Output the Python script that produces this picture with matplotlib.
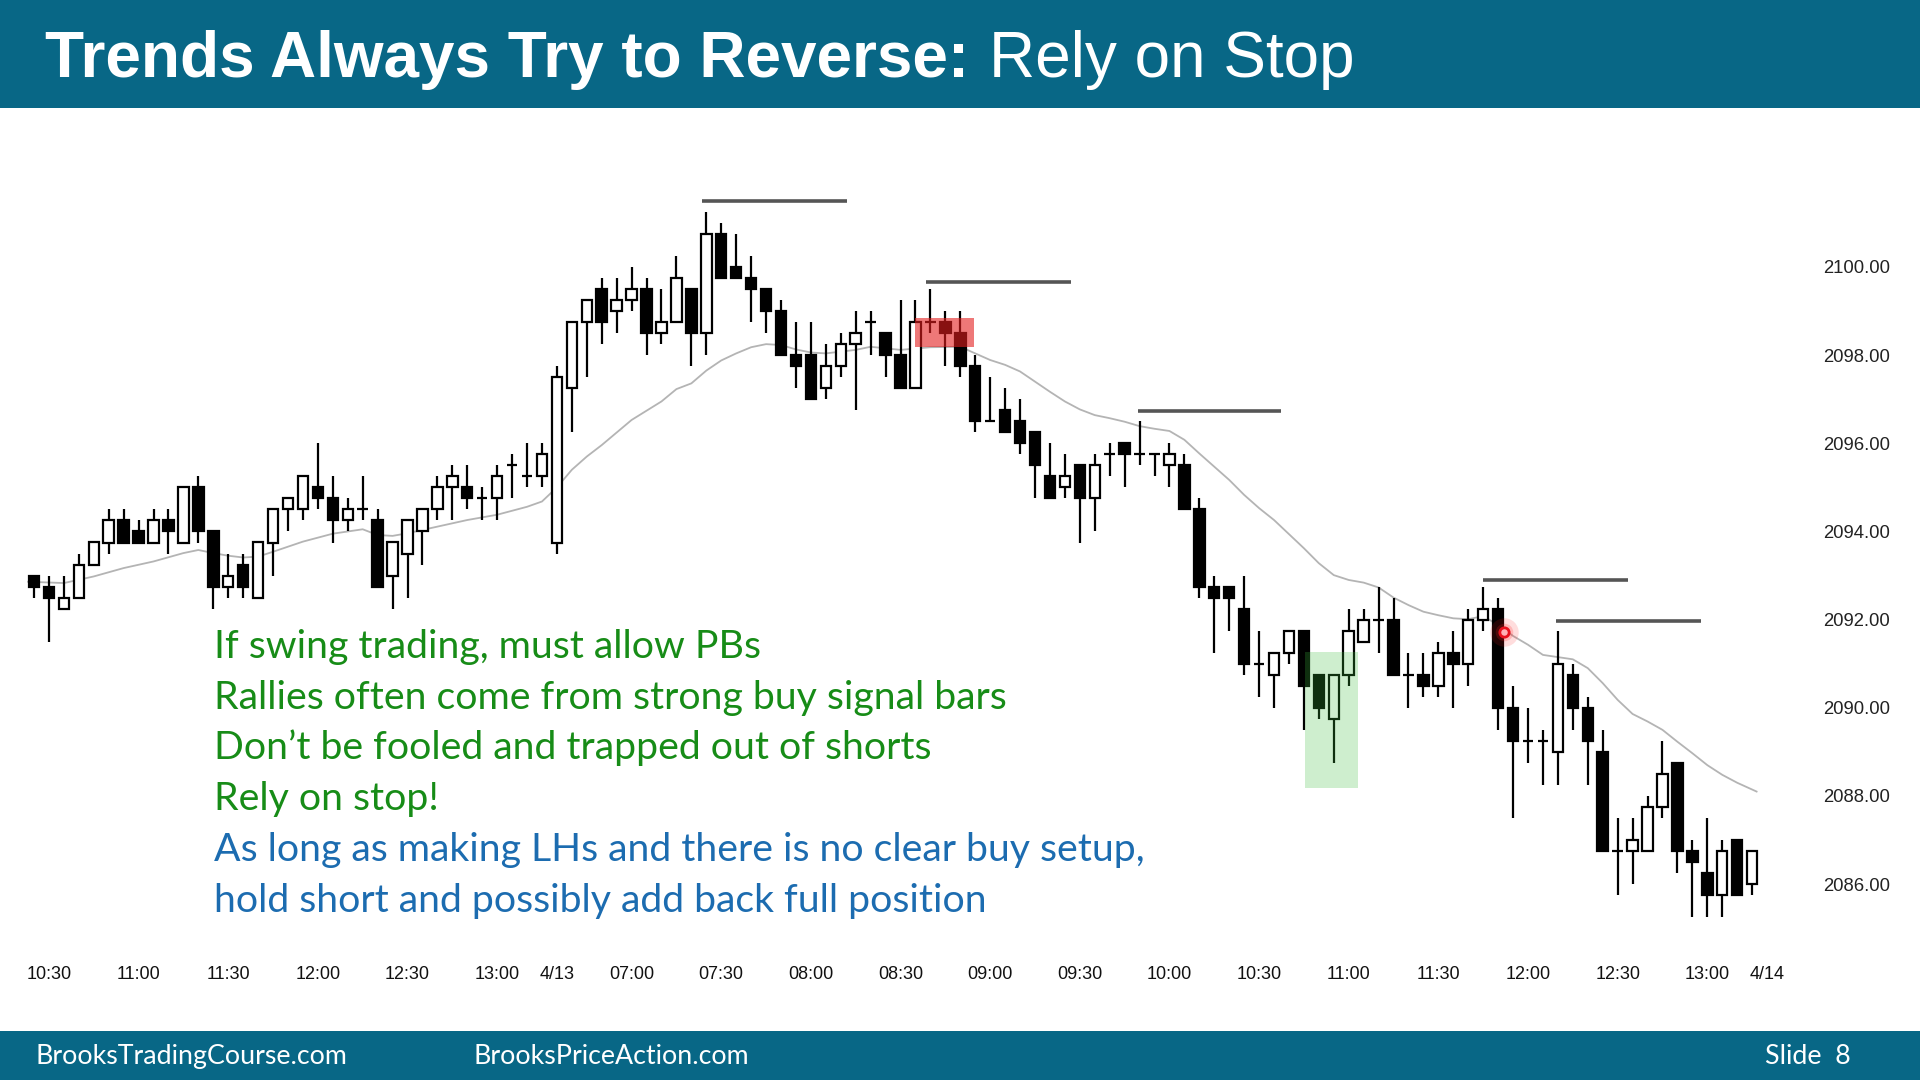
"""
Trends Always Try to Reverse: Rely on Stop  (slide 8)
5-min candles, 4/12 10:25 -> 4/13 13:15, with 20-bar EMA and swing-high lines.
"""
import matplotlib
matplotlib.use("Agg")
import matplotlib.pyplot as plt
from matplotlib.patches import Rectangle
import numpy as np

W, H, DPI = 1920, 1080, 100
TEAL = "#086786"
GREEN_TXT = "#178c17"
BLUE_TXT = "#1c6cb0"

# ---------- data ----------
# one entry per 5-min bar, bar 0 = 10:25, bar 35 = 06:35 next session
opens = [
    2093.0, 2092.75, 2092.25, 2092.5, 2093.25, 2093.75, 2094.25, 2094.0, 2093.75, 2094.25,
    2093.75, 2095.0, 2094.0, 2092.75, 2093.25, 2092.5, 2093.75, 2094.5, 2094.5, 2095.0,
    2094.75, 2094.25, 2094.5, 2094.25, 2093.0, 2093.5, 2094.0, 2094.5, 2095.0, 2095.0,
    2094.75, 2094.75, 2095.5, 2095.25, 2095.25, 2093.75, 2097.25, 2098.75, 2099.5, 2099.0,
    2099.25, 2099.5, 2098.5, 2098.75, 2099.5, 2098.5, 2100.75, 2100.0, 2099.75, 2099.5,
    2099.0, 2098.0, 2098.0, 2097.25, 2097.75, 2098.25, 2098.75, 2098.5, 2098.0, 2097.25,
    2098.75, 2098.75, 2098.5, 2097.75, 2096.5, 2096.75, 2096.5, 2096.25, 2095.25, 2095.0,
    2095.5, 2094.75, 2095.75, 2096.0, 2095.75, 2095.75, 2095.5, 2095.5, 2094.5, 2092.75,
    2092.75, 2092.25, 2091.0, 2090.75, 2091.25, 2091.75, 2090.75, 2089.75, 2090.75, 2091.5,
    2092.0, 2092.0, 2090.75, 2090.75, 2090.5, 2091.25, 2091.0, 2092.0, 2092.25, 2090.0,
    2089.25, 2089.25, 2089.0, 2090.75, 2090.0, 2089.0, 2086.75, 2086.75, 2086.75, 2087.75,
    2088.75, 2086.75, 2086.25, 2085.75, 2087.0, 2086.0,
]
highs = [
    2093.0, 2093.0, 2093.0, 2093.5, 2093.75, 2094.5, 2094.5, 2094.25, 2094.5, 2094.5,
    2095.0, 2095.25, 2094.0, 2093.5, 2093.5, 2093.75, 2094.5, 2094.75, 2095.25, 2096.0,
    2095.25, 2094.75, 2095.25, 2094.5, 2093.75, 2094.25, 2094.5, 2095.25, 2095.5, 2095.5,
    2095.0, 2095.5, 2095.75, 2096.0, 2096.0, 2097.75, 2098.75, 2099.25, 2099.75, 2099.75,
    2100.0, 2099.75, 2099.5, 2100.25, 2099.5, 2101.25, 2101.0, 2100.75, 2100.25, 2099.5,
    2099.25, 2098.75, 2098.75, 2098.25, 2098.5, 2099.0, 2099.0, 2098.5, 2099.25, 2099.25,
    2099.5, 2099.0, 2099.0, 2098.0, 2097.5, 2097.25, 2097.0, 2096.25, 2096.0, 2095.75,
    2095.5, 2095.75, 2096.0, 2096.0, 2096.5, 2095.75, 2096.0, 2095.75, 2094.75, 2093.0,
    2092.75, 2093.0, 2091.75, 2091.25, 2091.75, 2091.75, 2090.75, 2090.75, 2092.25, 2092.25,
    2092.75, 2092.5, 2091.25, 2091.25, 2091.5, 2091.75, 2092.25, 2092.75, 2092.5, 2090.5,
    2090.0, 2089.5, 2091.75, 2091.0, 2090.25, 2089.5, 2087.5, 2087.5, 2088.0, 2089.25,
    2088.75, 2087.0, 2087.5, 2087.0, 2087.0, 2086.75,
]
lows = [
    2092.5, 2091.5, 2092.25, 2092.5, 2093.25, 2093.5, 2093.75, 2093.75, 2093.75, 2093.5,
    2093.75, 2093.75, 2092.25, 2092.5, 2092.5, 2092.5, 2093.0, 2094.0, 2094.25, 2094.5,
    2093.75, 2094.0, 2094.25, 2092.75, 2092.25, 2092.5, 2093.25, 2094.25, 2094.25, 2094.5,
    2094.25, 2094.25, 2094.75, 2095.0, 2095.0, 2093.5, 2096.25, 2097.5, 2098.25, 2098.5,
    2099.0, 2098.0, 2098.25, 2098.75, 2097.75, 2098.0, 2099.75, 2099.75, 2098.75, 2098.5,
    2098.0, 2097.25, 2097.0, 2097.0, 2097.5, 2096.75, 2098.0, 2097.5, 2097.25, 2097.25,
    2098.5, 2097.75, 2097.5, 2096.25, 2096.5, 2096.25, 2095.75, 2094.75, 2094.75, 2094.75,
    2093.75, 2094.0, 2095.25, 2095.0, 2095.5, 2095.25, 2095.0, 2094.5, 2092.5, 2091.25,
    2091.75, 2090.75, 2090.25, 2090.0, 2091.0, 2089.5, 2089.75, 2088.75, 2090.5, 2091.5,
    2091.25, 2090.75, 2090.0, 2090.25, 2090.25, 2090.0, 2090.5, 2091.75, 2089.5, 2087.5,
    2088.75, 2088.25, 2088.25, 2089.5, 2088.25, 2086.75, 2085.75, 2086.0, 2086.75, 2087.5,
    2086.25, 2085.25, 2085.25, 2085.25, 2085.75, 2085.75,
]
closes = [
    2092.75, 2092.5, 2092.5, 2093.25, 2093.75, 2094.25, 2093.75, 2093.75, 2094.25, 2094.0,
    2095.0, 2094.0, 2092.75, 2093.0, 2092.75, 2093.75, 2094.5, 2094.75, 2095.25, 2094.75,
    2094.25, 2094.5, 2094.5, 2092.75, 2093.75, 2094.25, 2094.5, 2095.0, 2095.25, 2094.75,
    2094.75, 2095.25, 2095.5, 2095.25, 2095.75, 2097.5, 2098.75, 2099.25, 2098.75, 2099.25,
    2099.5, 2098.5, 2098.75, 2099.75, 2098.5, 2100.75, 2099.75, 2099.75, 2099.5, 2099.0,
    2098.0, 2097.75, 2097.0, 2097.75, 2098.25, 2098.5, 2098.75, 2098.0, 2097.25, 2098.75,
    2098.75, 2098.5, 2097.75, 2096.5, 2096.5, 2096.25, 2096.0, 2095.5, 2094.75, 2095.25,
    2094.75, 2095.5, 2095.75, 2095.75, 2095.75, 2095.75, 2095.75, 2094.5, 2092.75, 2092.5,
    2092.5, 2091.0, 2091.0, 2091.25, 2091.75, 2090.5, 2090.0, 2090.75, 2091.75, 2092.0,
    2092.0, 2090.75, 2090.75, 2090.5, 2091.25, 2091.0, 2092.0, 2092.25, 2090.0, 2089.25,
    2089.25, 2089.25, 2091.0, 2090.0, 2089.25, 2086.75, 2086.75, 2087.0, 2087.75, 2088.5,
    2086.75, 2086.5, 2085.75, 2086.75, 2085.75, 2086.75,
]

# moving average (bar index, price)
ema_x = [-0.4, 2, 4, 6, 8, 10, 11, 12, 13, 14, 15, 16, 18, 20, 22, 23, 24, 25, 27, 29,
         31, 33, 34, 35, 36, 37, 38, 40, 42, 43, 44, 45, 46, 47, 48, 49, 50, 51, 52, 53,
         55, 56, 58, 60, 62, 63, 64, 65, 66, 67, 68, 69, 70, 71, 72, 73, 74, 75, 76, 77,
         78, 79, 80, 81, 82, 83, 84, 85, 86, 87, 88, 89, 90, 91, 92, 93, 94, 95, 96, 97,
         98, 99, 100, 101, 102, 103, 104, 105, 106, 107, 108, 109, 110, 111, 112, 113,
         114, 115.3]
ema_y = [2092.86, 2092.83, 2092.98, 2093.17, 2093.32, 2093.51, 2093.58, 2093.51, 2093.45,
         2093.41, 2093.43, 2093.54, 2093.77, 2093.95, 2094.05, 2093.92, 2093.90, 2093.96,
         2094.11, 2094.26, 2094.38, 2094.56, 2094.68, 2095.00, 2095.40, 2095.70, 2095.96,
         2096.53, 2096.95, 2097.23, 2097.36, 2097.65, 2097.88, 2098.04, 2098.18, 2098.25,
         2098.23, 2098.13, 2098.06, 2098.04, 2098.12, 2098.19, 2098.12, 2098.18, 2098.19,
         2098.04, 2097.89, 2097.78, 2097.63, 2097.40, 2097.17, 2096.95, 2096.77, 2096.64,
         2096.57, 2096.49, 2096.39, 2096.33, 2096.28, 2096.08, 2095.77, 2095.47, 2095.17,
         2094.83, 2094.53, 2094.26, 2093.94, 2093.62, 2093.28, 2093.01, 2092.90, 2092.84,
         2092.73, 2092.50, 2092.33, 2092.18, 2092.10, 2092.03, 2092.01, 2092.08, 2091.88,
         2091.63, 2091.43, 2091.20, 2091.15, 2091.10, 2090.90, 2090.56, 2090.18, 2089.86,
         2089.69, 2089.50, 2089.23, 2088.97, 2088.70, 2088.48, 2088.30, 2088.10]

time_ticks = [1, 7, 13, 19, 25, 31, 35, 40, 46, 52, 58, 64, 70, 76, 82, 88, 94, 100, 106, 112, 116]
time_labels = ["10:30", "11:00", "11:30", "12:00", "12:30", "13:00", "4/13", "07:00", "07:30",
               "08:00", "08:30", "09:00", "09:30", "10:00", "10:30", "11:00", "11:30", "12:00",
               "12:30", "13:00", "4/14"]
price_ticks = [2086, 2088, 2090, 2092, 2094, 2096, 2098, 2100]

# lower-high lines: start bar, end bar, price
swing_start = [44.7, 59.7, 73.9, 97.0, 101.9]
swing_end = [54.4, 69.4, 83.5, 106.7, 111.6]
swing_price = [2101.5, 2099.66, 2096.73, 2092.90, 2091.97]

# highlighted bars: x0, x1, y0, y1
sell_box = [59.0, 62.9, 2098.18, 2098.84]
buy_box = [85.1, 88.6, 2088.19, 2091.27]
entry_dot = [98.41, 2091.71]

notes = [
    "If swing trading, must allow PBs",
    "Rallies often come from strong buy signal bars",
    "Don\u2019t be fooled and trapped out of shorts",
    "Rely on stop!",
    "As long as making LHs and there is no clear buy setup,",
    "hold short and possibly add back full position",
]
note_colors = [GREEN_TXT] * 4 + [BLUE_TXT] * 2


def fx(px):
    return px / W


def fy(py):
    return 1 - py / H


fig = plt.figure(figsize=(W / DPI, H / DPI), dpi=DPI, facecolor="white")

# ---------- banners ----------
fig.patches.append(Rectangle((0, fy(108)), 1, 108 / H, transform=fig.transFigure,
                             facecolor=TEAL, edgecolor="none", zorder=0))
fig.patches.append(Rectangle((0, 0), 1, 49 / H, transform=fig.transFigure,
                             facecolor=TEAL, edgecolor="none", zorder=0))

t1 = fig.text(fx(45), fy(77), "Trends Always Try to Reverse:", color="white",
              fontsize=46, fontweight="bold", family="Liberation Sans", va="baseline")
fig.canvas.draw()
ext = t1.get_window_extent()
fig.text(fx(ext.x1 + 20), fy(77), "Rely on Stop", color="white",
         fontsize=46, family="Liberation Sans", va="baseline")

fig.text(fx(35), fy(1064), "BrooksTradingCourse.com", color="white", fontsize=19.3,
         family="Lato", va="baseline")
fig.text(fx(474), fy(1064), "BrooksPriceAction.com", color="white", fontsize=19.3,
         family="Lato", va="baseline")
fig.text(fx(1851), fy(1064), "Slide  8", color="white", fontsize=19.3,
         family="Lato", va="baseline", ha="right")

# ---------- chart ----------
ax = fig.add_axes([0, fy(950), fx(1790), (950 - 110) / H])
ax.set_facecolor("white")
ax.set_xlim(-34 / 14.94, (1790 - 34) / 14.94)
ax.set_ylim(2100 - (950 - 267) / 44.08, 2100 + (267 - 110) / 44.08)
for s in ax.spines.values():
    s.set_visible(False)

x = np.arange(len(opens))
o = np.array(opens)
c = np.array(closes)
up = c >= o

ax.plot(ema_x, ema_y, color="#b4b4b4", lw=1.3, zorder=2)
ax.vlines(x, lows, highs, color="black", lw=1.6, zorder=3)
ax.bar(x[up], c[up] - o[up], bottom=o[up], width=0.7, facecolor="white",
       edgecolor="black", linewidth=1.6, zorder=4)
ax.bar(x[~up], o[~up] - c[~up], bottom=c[~up], width=0.7, facecolor="black",
       edgecolor="black", linewidth=1.6, zorder=4)

ax.hlines(swing_price, swing_start, swing_end, color="#555555", lw=2.6, zorder=5)

ax.add_patch(Rectangle((sell_box[0], sell_box[2]), sell_box[1] - sell_box[0],
                       sell_box[3] - sell_box[2], facecolor="#e41e1e", alpha=0.6,
                       edgecolor="none", zorder=6))
ax.add_patch(Rectangle((buy_box[0], buy_box[2]), buy_box[1] - buy_box[0],
                       buy_box[3] - buy_box[2], facecolor="#3cbe3c", alpha=0.25,
                       edgecolor="none", zorder=6))

ax.scatter([entry_dot[0]], [entry_dot[1]], s=420, color="#ff2020", alpha=0.15, lw=0, zorder=7)
ax.scatter([entry_dot[0]], [entry_dot[1]], s=160, color="#ff2020", alpha=0.2, lw=0, zorder=7)
ax.scatter([entry_dot[0]], [entry_dot[1]], s=45, facecolor="#ffb0b4", edgecolor="#e8101c",
           lw=2, zorder=8)

ax.set_xticks(time_ticks, time_labels)
ax.yaxis.tick_right()
ax.set_yticks(price_ticks, [f"{p:.2f}" for p in price_ticks])
ax.tick_params(axis="x", length=0, pad=11.5, labelsize=13, colors="#111111")
ax.tick_params(axis="y", length=0, pad=23.8, labelsize=13.3, colors="#222222")
for lbl in ax.get_xticklabels() + ax.get_yticklabels():
    lbl.set_family("Liberation Sans")

# ---------- notes ----------
for k, (txt, col) in enumerate(zip(notes, note_colors)):
    fig.text(fx(214), fy(657.7 + k * 50.9), txt, color=col, fontsize=28.3,
             family="Lato", va="baseline")

fig.savefig("out.png", dpi=DPI, facecolor="white")
